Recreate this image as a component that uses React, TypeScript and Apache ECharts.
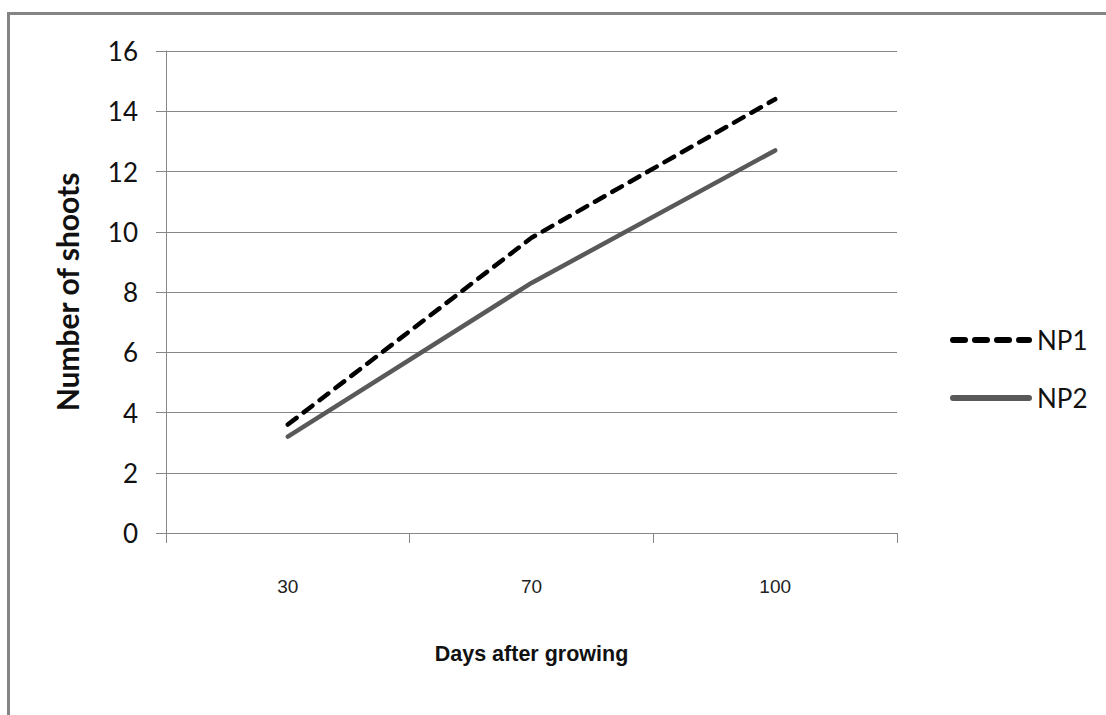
import React, { useEffect, useRef } from "react";
import * as echarts from "echarts";

const categories = ["30", "70", "100"];
const np1 = [3.6, 9.8, 14.4];
const np2 = [3.2, 8.3, 12.7];
const seriesNames = ["NP1", "NP2"];
const yMin = 0;
const yMax = 16;
const yInterval = 2;

const dashIcon =
  "path://M3,0h12a3,3 0 0 1 0,6h-12a3,3 0 0 1 0,-6z M25,0h12a3,3 0 0 1 0,6h-12a3,3 0 0 1 0,-6z M47,0h12a3,3 0 0 1 0,6h-12a3,3 0 0 1 0,-6z M69,0h10a3,3 0 0 1 0,6h-10a3,3 0 0 1 0,-6z";
const solidIcon = "path://M3,0h76a3,3 0 0 1 0,6h-76a3,3 0 0 1 0,-6z";

export default function App() {
  const ref = useRef<HTMLDivElement>(null);
  useEffect(() => {
    const chart = echarts.init(ref.current!, null, { renderer: "svg" });
    const axisColor = "#868686";
    chart.setOption({
      animation: false,
      backgroundColor: "#ffffff",
      graphic: [
        {
          type: "rect",
          shape: { x: 8.5, y: 13.5, width: 1200, height: 800 },
          style: { fill: "none", stroke: "#858585", lineWidth: 3 },
          silent: true,
        },
      ],
      grid: { left: 166, right: 209, top: 51, bottom: 182, containLabel: false },
      legend: {
        orient: "vertical",
        left: 945,
        top: 322,
        itemWidth: 82,
        itemHeight: 6,
        itemGap: 32,
        data: [
          { name: seriesNames[0], icon: dashIcon },
          { name: seriesNames[1], icon: solidIcon },
        ],
        textStyle: { fontSize: 26, fontFamily: "Lato", color: "#111" },
      },
      xAxis: {
        type: "category",
        data: categories,
        boundaryGap: true,
        axisLine: { lineStyle: { color: axisColor, width: 1 } },
        axisTick: { show: true, length: 10, lineStyle: { color: axisColor } },
        axisLabel: { margin: 44, fontSize: 19, fontFamily: "Liberation Sans", color: "#222" },
        name: "Days after growing",
        nameLocation: "middle",
        nameGap: 110,
        nameTextStyle: { fontWeight: "bold", fontSize: 21.5, fontFamily: "Liberation Sans", color: "#111" },
      },
      yAxis: {
        type: "value",
        min: yMin,
        max: yMax,
        interval: yInterval,
        axisLine: { show: true, lineStyle: { color: axisColor, width: 1 } },
        axisTick: { show: true, length: 10, lineStyle: { color: axisColor } },
        splitLine: { show: true, lineStyle: { color: axisColor, width: 1 } },
        axisLabel: { margin: 28, fontSize: 26, fontFamily: "Lato", color: "#111" },
        name: "Number of shoots",
        nameLocation: "middle",
        nameGap: 84,
        nameRotate: 90,
        nameTextStyle: { fontWeight: "bold", fontSize: 30, fontFamily: "Lato", color: "#111" },
      },
      series: [
        {
          name: seriesNames[0],
          type: "line",
          data: np1,
          symbol: "none",
          itemStyle: { color: "#000" },
          lineStyle: { color: "#000", width: 4.5, type: [11, 9], cap: "round" },
        },
        {
          name: seriesNames[1],
          type: "line",
          data: np2,
          symbol: "none",
          itemStyle: { color: "#595959" },
          lineStyle: { color: "#595959", width: 4.5, cap: "round" },
        },
      ],
    });
    return () => chart.dispose();
  }, []);
  return (
    <div
      ref={ref}
      style={{ position: "fixed", left: 0, top: 0, width: 1106, height: 715, background: "#fff" }}
    />
  );
}
